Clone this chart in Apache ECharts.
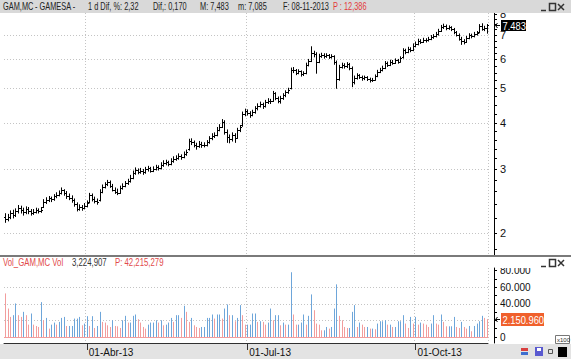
<!DOCTYPE html>
<html><head><meta charset="utf-8">
<script src="https://cdn.jsdelivr.net/npm/echarts@6/dist/echarts.min.js"></script>
<style>html,body{margin:0;padding:0;background:#fff}#c{width:571px;height:359px}</style>
</head><body><div id="c"></div>
<script>
// ---------- DATA ----------
const firstDay = '2013-02-13';
const holidays = ['2013-03-29','2013-04-01','2013-05-01'];
const monthNames = ['Ene','Feb','Mar','Abr','May','Jun','Jul','Ago','Sep','Oct','Nov','Dic'];
const labelMonths = [3, 6, 9];

const opens = [2.22,2.18,2.21,2.27,2.24,2.30,2.34,2.31,2.28,2.33,
 2.30,2.27,2.29,2.31,2.30,2.36,2.44,2.47,2.49,2.48,
 2.52,2.55,2.58,2.62,2.57,2.52,2.50,2.46,2.40,2.33,
 2.36,2.34,2.38,2.43,2.54,2.48,2.45,2.46,2.60,2.68,
 2.72,2.76,2.70,2.63,2.60,2.58,2.66,2.70,2.74,2.78,
 2.84,2.92,2.98,2.95,2.97,2.94,2.99,3.01,2.97,3.00,
 3.03,3.02,3.08,3.12,3.13,3.10,3.16,3.20,3.22,3.26,
 3.24,3.30,3.40,3.58,3.56,3.50,3.46,3.52,3.48,3.50,
 3.55,3.64,3.70,3.72,3.85,3.92,4.05,3.80,3.68,3.62,
 3.72,3.66,3.84,3.95,4.25,4.32,4.28,4.22,4.30,4.40,
 4.48,4.52,4.46,4.58,4.62,4.62,4.84,4.70,4.62,4.70,
 4.78,4.88,5.00,5.62,5.60,5.52,5.56,5.48,5.50,5.80,
 5.95,6.25,6.22,5.92,6.15,6.18,6.12,6.16,6.10,6.12,
 5.90,5.30,5.72,5.80,5.74,5.82,5.70,5.20,5.35,5.42,
 5.38,5.32,5.36,5.30,5.26,5.28,5.40,5.55,5.62,5.70,
 5.86,5.80,5.92,5.88,5.96,5.92,6.08,6.35,6.30,6.42,
 6.38,6.55,6.62,6.76,6.72,6.80,6.78,6.84,6.92,6.96,
 7.05,7.20,7.36,7.42,7.30,7.35,7.28,7.12,7.02,6.85,
 6.75,6.70,6.88,7.00,6.95,7.06,7.12,7.40,7.28,7.30];
const highs = [2.26,2.25,2.30,2.31,2.33,2.38,2.37,2.34,2.36,2.35,
 2.32,2.32,2.34,2.33,2.35,2.47,2.50,2.52,2.51,2.55,
 2.58,2.61,2.66,2.63,2.60,2.56,2.53,2.48,2.42,2.39,
 2.38,2.41,2.45,2.57,2.56,2.51,2.48,2.63,2.71,2.75,
 2.79,2.78,2.72,2.66,2.64,2.69,2.73,2.77,2.81,2.88,
 2.96,3.02,3.00,3.01,2.99,3.03,3.05,3.03,3.04,3.07,
 3.06,3.12,3.16,3.17,3.15,3.20,3.24,3.26,3.30,3.28,
 3.34,3.38,3.62,3.63,3.58,3.53,3.57,3.55,3.54,3.59,
 3.68,3.75,3.77,3.90,3.97,4.10,4.07,3.84,3.72,3.77,
 3.75,3.88,3.95,4.30,4.38,4.36,4.31,4.35,4.45,4.53,
 4.58,4.55,4.63,4.68,4.66,4.90,4.86,4.73,4.75,4.83,
 4.92,5.00,5.68,5.70,5.63,5.62,5.58,5.55,5.86,6.00,
 6.50,6.32,6.26,6.20,6.24,6.22,6.22,6.19,6.18,6.14,
 5.94,5.78,5.86,5.84,5.88,5.85,5.72,5.40,5.48,5.45,
 5.40,5.40,5.38,5.33,5.32,5.44,5.60,5.67,5.75,5.92,
 5.90,5.97,5.96,6.02,6.00,6.10,6.42,6.40,6.48,6.46,
 6.62,6.70,6.82,6.80,6.86,6.84,6.90,6.98,7.02,7.12,
 7.26,7.44,7.50,7.46,7.42,7.38,7.30,7.16,7.05,6.90,
 6.80,6.94,7.06,7.04,7.12,7.16,7.48,7.52,7.40,7.483];
const lows = [2.14,2.16,2.19,2.20,2.22,2.27,2.27,2.24,2.26,2.26,
 2.24,2.25,2.27,2.27,2.28,2.35,2.41,2.44,2.44,2.46,
 2.50,2.53,2.56,2.54,2.49,2.47,2.43,2.37,2.30,2.31,
 2.31,2.33,2.36,2.42,2.45,2.42,2.40,2.45,2.58,2.66,
 2.70,2.67,2.61,2.57,2.55,2.57,2.64,2.68,2.72,2.76,
 2.82,2.90,2.91,2.92,2.90,2.92,2.96,2.94,2.95,2.98,
 2.98,3.00,3.05,3.08,3.06,3.08,3.13,3.17,3.19,3.19,
 3.22,3.27,3.38,3.50,3.45,3.40,3.44,3.44,3.45,3.47,
 3.53,3.61,3.66,3.70,3.82,3.90,3.74,3.55,3.54,3.58,
 3.55,3.64,3.80,3.93,4.20,4.22,4.16,4.20,4.27,4.36,
 4.44,4.40,4.44,4.54,4.54,4.60,4.65,4.56,4.55,4.66,
 4.74,4.84,4.98,5.52,5.45,5.48,5.40,5.42,5.48,5.76,
 5.92,6.10,5.50,5.88,6.08,6.05,6.08,6.04,6.05,5.82,
 5.00,5.26,5.68,5.68,5.70,5.62,5.05,5.14,5.30,5.32,
 5.26,5.28,5.25,5.20,5.22,5.26,5.38,5.52,5.58,5.66,
 5.74,5.77,5.82,5.85,5.86,5.90,6.05,6.22,6.26,6.30,
 6.34,6.50,6.58,6.64,6.68,6.70,6.74,6.80,6.86,6.92,
 7.00,7.16,7.30,7.24,7.26,7.20,7.06,6.96,6.78,6.60,
 6.62,6.68,6.84,6.88,6.92,7.00,7.10,7.22,7.20,7.085];
const closes = [2.18,2.22,2.27,2.24,2.30,2.34,2.31,2.28,2.33,2.30,
 2.27,2.29,2.31,2.30,2.32,2.44,2.47,2.49,2.48,2.52,
 2.55,2.58,2.62,2.57,2.52,2.50,2.46,2.40,2.33,2.36,
 2.34,2.38,2.42,2.54,2.48,2.45,2.43,2.60,2.68,2.72,
 2.76,2.70,2.63,2.60,2.58,2.66,2.70,2.74,2.78,2.84,
 2.92,2.98,2.95,2.97,2.94,2.99,3.01,2.97,3.00,3.03,
 3.02,3.08,3.12,3.13,3.10,3.16,3.20,3.22,3.26,3.24,
 3.30,3.34,3.58,3.56,3.50,3.46,3.52,3.48,3.50,3.55,
 3.64,3.70,3.72,3.85,3.92,4.05,3.80,3.68,3.62,3.72,
 3.66,3.84,3.90,4.25,4.32,4.28,4.22,4.30,4.40,4.48,
 4.52,4.46,4.58,4.62,4.60,4.84,4.70,4.62,4.70,4.78,
 4.88,4.96,5.62,5.60,5.52,5.56,5.48,5.50,5.80,5.95,
 6.25,6.22,5.92,6.15,6.18,6.12,6.16,6.10,6.12,5.90,
 5.30,5.72,5.80,5.74,5.82,5.70,5.20,5.35,5.42,5.38,
 5.32,5.36,5.30,5.26,5.28,5.40,5.55,5.62,5.70,5.86,
 5.80,5.92,5.88,5.96,5.92,6.05,6.35,6.30,6.42,6.38,
 6.55,6.62,6.76,6.72,6.80,6.78,6.84,6.92,6.96,7.05,
 7.20,7.36,7.42,7.30,7.35,7.28,7.12,7.02,6.85,6.75,
 6.70,6.88,7.00,6.95,7.06,7.10,7.40,7.28,7.313,7.483];
const volumes = [5250000,3430000,2420000,2630000,4040000,2630000,2420000,3030000,2630000,1490000,
 2830000,1490000,1330000,1210000,4200000,2020000,2300000,1010000,1490000,1740000,
 1490000,1820000,2300000,2420000,1330000,1330000,1330000,2220000,2220000,2420000,
 1410000,1620000,2510000,1330000,2510000,1090000,1330000,3030000,1820000,1740000,
 1410000,1210000,2020000,1330000,1290000,1090000,2020000,2550000,1740000,1740000,
 2550000,2710000,2140000,1740000,1210000,1010000,1490000,1740000,1740000,2020000,
 1740000,2020000,1410000,1490000,1740000,2300000,1820000,2630000,2630000,2300000,
 3760000,3030000,1820000,2300000,1410000,1210000,1090000,1210000,1210000,2300000,
 2300000,2710000,2220000,2710000,2710000,2220000,3430000,3920000,2630000,2630000,
 1900000,2300000,3840000,2630000,1490000,1490000,1490000,2830000,2830000,1820000,
 1900000,1820000,1490000,1740000,3430000,2020000,2630000,2630000,1410000,1740000,
 1490000,1490000,7800000,2710000,1490000,1490000,1740000,2710000,1490000,2550000,
 5130000,3230000,1620000,1490000,810000,810000,1210000,1010000,1210000,3430000,
 6340000,2550000,2020000,1210000,1090000,1090000,3030000,3840000,1210000,1740000,
 1490000,1210000,1210000,1010000,1010000,930000,1620000,1900000,1900000,2020000,
 1490000,1490000,1210000,1210000,1900000,1900000,2630000,1620000,1090000,2420000,
 1620000,2420000,1490000,1740000,1620000,1490000,1210000,1620000,2630000,1620000,
 1490000,2710000,1820000,1290000,1290000,1290000,2420000,1210000,1090000,1820000,
 1210000,1010000,1330000,690000,1330000,1620000,1900000,2550000,2300000,2150960];
const priceLabelTicks = [2,3,4,5,6,7,8];
const priceMinorTicks = [1.8,2,2.2,2.4,2.6,2.8,3,3.2,3.4,3.6,3.8,4,4.25,4.5,4.75,5,5.25,5.5,5.75,6,6.25,6.5,6.75,7,7.25,7.5,7.75,8];
const priceGridTicks = [2,3,4,5,6,7];
const volTicks = [0,1000000,2000000,3000000,4000000,5000000,6000000,7000000,8000000];
const volLabelTicks = [0,4000000,6000000,8000000];
const volGridTicks = [2000000,4000000,6000000];

// ---------- DATES ----------
function tradingDays(start, n) {
  const out = [];
  const d = new Date(start + 'T12:00:00Z');
  while (out.length < n) {
    const wd = d.getUTCDay();
    const s = d.toISOString().slice(0, 10);
    if (wd !== 0 && wd !== 6 && holidays.indexOf(s) < 0) out.push(s);
    d.setUTCDate(d.getUTCDate() + 1);
  }
  return out;
}
const dates = tradingDays(firstDay, closes.length);
const qIdx = new Set();
dates.forEach((s, i) => {
  const m = +s.slice(5, 7) - 1;
  if (i > 0 && dates[i - 1].slice(5, 7) !== s.slice(5, 7) && labelMonths.indexOf(m) >= 0) qIdx.add(i);
});
const isQ = (i) => qIdx.has(i);
const fmtDate = (s) => '01-' + monthNames[+s.slice(5, 7) - 1] + '-' + s.slice(2, 4);
const dots = (n) => String(Math.round(n)).replace(/\B(?=(\d{3})+(?!\d))/g, '.');

const FONT = '"Liberation Sans", Arial, sans-serif';
const BLUE = '#6ea6da', PINK = '#f29d9d';
const last = closes.length - 1;

const chart = echarts.init(document.getElementById('c'), null, {renderer: 'svg'});

const gridDots = {color: '#c4c4c4', type: [1, 2], width: 1};

function hText(x, y, text, color, sx) {
  return {type: 'text', z: 101, x: x, y: y, scaleX: sx || 0.74,
    style: {x: 0, y: 0, text: text, font: '10px ' + FONT, fill: color, verticalAlign: 'middle'}};
}

const option = {
  animation: false,
  backgroundColor: '#fff',
  grid: [
    {left: 4, top: 13, width: 484, height: 242},
    {left: 4, top: 268, width: 484, height: 75}
  ],
  xAxis: [
    {gridIndex: 0, type: 'category', data: dates, boundaryGap: true,
      axisLine: {show: false}, axisTick: {show: false}, axisLabel: {show: false},
      splitLine: {show: true, interval: isQ, lineStyle: gridDots}},
    {gridIndex: 1, type: 'category', data: dates, boundaryGap: true,
      axisLine: {show: true, onZero: false, lineStyle: {color: '#303030', width: 1}},
      axisTick: {show: true, interval: isQ, alignWithLabel: true, length: 7, lineStyle: {color: '#303030'}},
      axisLabel: {show: true, interval: isQ, formatter: fmtDate, align: 'left', margin: 4,
        fontSize: 10, color: '#111', fontFamily: FONT, padding: [0, 0, 0, 2]},
      splitLine: {show: true, interval: isQ, lineStyle: gridDots}}
  ],
  yAxis: [
    {gridIndex: 0, type: 'log', logBase: 10, min: 1.74, max: 8.05, position: 'right', offset: 6,
      axisLine: {show: true, lineStyle: {color: '#000'}},
      axisTick: {show: true, length: 3, customValues: priceMinorTicks, lineStyle: {color: '#000'}},
      axisLabel: {show: true, customValues: priceLabelTicks, margin: 6, fontSize: 11, color: '#111', fontFamily: FONT,
        formatter: (v) => String(Math.round(v))},
      splitLine: {show: false}},
    {gridIndex: 0, type: 'log', logBase: 10, min: 1.74, max: 8.05, position: 'right',
      axisLine: {show: false}, axisLabel: {show: false},
      axisTick: {show: false, customValues: priceGridTicks},
      splitLine: {show: true, lineStyle: gridDots}},
    {gridIndex: 1, type: 'value', min: -720000, max: 8310000, position: 'right', offset: 6,
      axisLine: {show: true, lineStyle: {color: '#000'}},
      axisTick: {show: true, length: 3, customValues: volTicks, lineStyle: {color: '#000'}},
      axisLabel: {show: true, customValues: volLabelTicks, margin: 6, fontSize: 10, color: '#111', fontFamily: FONT,
        formatter: (v) => dots(v / 100)},
      splitLine: {show: false}},
    {gridIndex: 1, type: 'value', min: -720000, max: 8310000, position: 'right',
      axisLine: {show: false}, axisLabel: {show: false},
      axisTick: {show: false, customValues: volGridTicks},
      splitLine: {show: true, lineStyle: gridDots}}
  ],
  series: [
    {
      name: 'GAM.MC', type: 'custom', xAxisIndex: 0, yAxisIndex: 0,
      data: dates.map((d, i) => [i, opens[i], highs[i], lows[i], closes[i]]),
      encode: {x: 0, y: [1, 2, 3, 4]},
      renderItem: function (params, api) {
        const i = api.value(0);
        const o = api.coord([i, api.value(1)]);
        const h = api.coord([i, api.value(2)]);
        const l = api.coord([i, api.value(3)]);
        const c = api.coord([i, api.value(4)]);
        const x = Math.round(o[0]) + 0.5;
        const st = {stroke: '#000', lineWidth: 1};
        return {type: 'group', children: [
          {type: 'line', shape: {x1: x, y1: h[1] - 0.5, x2: x, y2: l[1] + 0.5}, style: st},
          {type: 'line', shape: {x1: x - 1.5, y1: Math.round(o[1]) + 0.5, x2: x, y2: Math.round(o[1]) + 0.5}, style: st},
          {type: 'line', shape: {x1: x, y1: Math.round(c[1]) + 0.5, x2: x + 1.5, y2: Math.round(c[1]) + 0.5}, style: st}
        ]};
      }
    },
    {
      name: 'lastPrice', type: 'custom', xAxisIndex: 0, yAxisIndex: 0, z: 5,
      data: [[last, closes[last]]],
      renderItem: function (params, api) {
        const p = api.coord([api.value(0), api.value(1)]);
        const ax = params.coordSys.x + params.coordSys.width + 6;
        const y = Math.round(p[1]);
        return {type: 'group', children: [
          {type: 'line', shape: {x1: ax + 1.5, y1: y + 0.5, x2: ax + 6, y2: y + 0.5}, style: {stroke: '#000', lineWidth: 1}},
          {type: 'polyline', shape: {points: [[ax + 3.5, y - 2], [ax + 1.5, y + 0.5], [ax + 3.5, y + 3]]}, style: {stroke: '#000', fill: null, lineWidth: 1}},
          {type: 'rect', shape: {x: ax + 7, y: y - 5, width: 25, height: 11}, style: {fill: '#000'}},
          {type: 'text', x: ax + 8.5, y: y + 1, scaleX: 0.85,
            style: {x: 0, y: 0, text: closes[last].toFixed(3), fill: '#fff', font: '11px ' + FONT, verticalAlign: 'middle'}}
        ]};
      }
    },
    {
      name: 'Vol', type: 'custom', xAxisIndex: 1, yAxisIndex: 2,
      data: volumes.map((v, i) => [i, v, (i > 0 && v >= volumes[i - 1]) ? 1 : 0]),
      encode: {x: 0, y: 1},
      renderItem: function (params, api) {
        const i = api.value(0);
        const t = api.coord([i, api.value(1)]);
        const b = api.coord([i, 0]);
        const x = Math.round(t[0]) + 0.5;
        return {type: 'line', shape: {x1: x, y1: b[1], x2: x, y2: t[1]},
          style: {stroke: api.value(2) ? BLUE : PINK, lineWidth: 1}};
      },
      markLine: {silent: true, symbol: 'none', animation: false,
        data: [{yAxis: 0}], label: {show: false},
        lineStyle: {color: PINK, type: 'solid', width: 1}}
    },
    {
      name: 'lastVol', type: 'custom', xAxisIndex: 1, yAxisIndex: 2, z: 5,
      data: [[last, volumes[last]]],
      renderItem: function (params, api) {
        const p = api.coord([api.value(0), api.value(1)]);
        const ax = params.coordSys.x + params.coordSys.width + 6;
        const y = Math.round(p[1]);
        return {type: 'group', children: [
          {type: 'line', shape: {x1: ax + 1.5, y1: y + 0.5, x2: ax + 6, y2: y + 0.5}, style: {stroke: '#000', lineWidth: 1}},
          {type: 'polyline', shape: {points: [[ax + 3.5, y - 2], [ax + 1.5, y + 0.5], [ax + 3.5, y + 3]]}, style: {stroke: '#000', fill: null, lineWidth: 1}},
          {type: 'rect', shape: {x: ax + 7, y: y - 6, width: 43, height: 13}, style: {fill: '#f0602c'}},
          {type: 'text', x: ax + 8.5, y: y + 1, scaleX: 0.85,
            style: {x: 0, y: 0, text: dots(api.value(1)), fill: '#fff', font: '11px ' + FONT, verticalAlign: 'middle'}}
        ]};
      }
    }
  ],
  graphic: [
    // top title bar
    {type: 'rect', z: 100, shape: {x: 0, y: 0, width: 571, height: 13}, style: {fill: '#d9d9d9'}},
    hText(3, 7, 'GAM,MC', '#222'),
    hText(35, 7, '- GAMESA -', '#222'),
    hText(88, 7, '1 d Dif, %: 2,32', '#222'),
    hText(153, 7, 'Dif,: 0,170', '#222'),
    hText(200, 7, 'M: 7,483', '#222'),
    hText(238, 7, 'm: 7,085', '#222'),
    hText(283, 7, 'F: 08-11-2013', '#222'),
    hText(333, 7, 'P : 12,386', '#e23b3b'),
    // window icons (top)
    {type: 'line', z: 101, shape: {x1: 541, y1: 10.5, x2: 546, y2: 10.5}, style: {stroke: '#333', lineWidth: 1.5}},
    {type: 'rect', z: 101, shape: {x: 549.5, y: 3.5, width: 6, height: 7}, style: {stroke: '#333', fill: 'none', lineWidth: 1.5}},
    {type: 'line', z: 101, shape: {x1: 558, y1: 4, x2: 564, y2: 10}, style: {stroke: '#333', lineWidth: 1.5}},
    {type: 'line', z: 101, shape: {x1: 564, y1: 4, x2: 558, y2: 10}, style: {stroke: '#333', lineWidth: 1.5}},
    // panel separator
    {type: 'rect', z: 100, shape: {x: 0, y: 255, width: 571, height: 2}, style: {fill: '#7a7a7a'}},
    {type: 'rect', z: 100, shape: {x: 495, y: 257, width: 76, height: 11}, style: {fill: '#fff'}},
    hText(3, 263, 'Vol_GAM,MC Vol', '#e24a4a', 0.78),
    hText(72, 263, '3,224,907', '#333', 0.78),
    hText(115, 263, 'P: 42,215,279', '#e24a4a', 0.78),
    {type: 'line', z: 101, shape: {x1: 541, y1: 266.5, x2: 546, y2: 266.5}, style: {stroke: '#333', lineWidth: 1.5}},
    {type: 'rect', z: 101, shape: {x: 549.5, y: 259.5, width: 6, height: 7}, style: {stroke: '#333', fill: 'none', lineWidth: 1.5}},
    {type: 'line', z: 101, shape: {x1: 558, y1: 260, x2: 564, y2: 266}, style: {stroke: '#333', lineWidth: 1.5}},
    {type: 'line', z: 101, shape: {x1: 564, y1: 260, x2: 558, y2: 266}, style: {stroke: '#333', lineWidth: 1.5}},
    // x100 box
    {type: 'rect', z: 101, shape: {x: 555.5, y: 335.5, width: 14, height: 8}, style: {stroke: '#777', fill: '#fff', lineWidth: 1}},
    {type: 'text', z: 102, x: 557, y: 340, style: {x: 0, y: 0, text: 'x100', font: '6px ' + FONT, fill: '#333', verticalAlign: 'middle'}},
    // bottom bar
    {type: 'rect', z: -10, shape: {x: 0, y: 344, width: 571, height: 15}, style: {fill: '#e3e3e3'}},
    {type: 'rect', z: 101, shape: {x: 521, y: 348, width: 7, height: 3}, style: {fill: '#d94040'}},
    {type: 'rect', z: 101, shape: {x: 521, y: 352, width: 7, height: 3}, style: {fill: '#3f6fd0'}},
    {type: 'rect', z: 101, shape: {x: 535, y: 347, width: 8, height: 9}, style: {fill: '#5a5ad0'}},
    {type: 'rect', z: 102, shape: {x: 537, y: 348, width: 4, height: 3}, style: {fill: '#fff'}},
    {type: 'rect', z: 101, shape: {x: 548.5, y: 349.5, width: 4, height: 4}, style: {stroke: '#555', fill: 'none', lineWidth: 1}},
    {type: 'rect', z: 101, shape: {x: 558, y: 347, width: 9, height: 10}, style: {fill: '#000'}}
  ]
};
chart.setOption(option);
</script>
</body></html>
